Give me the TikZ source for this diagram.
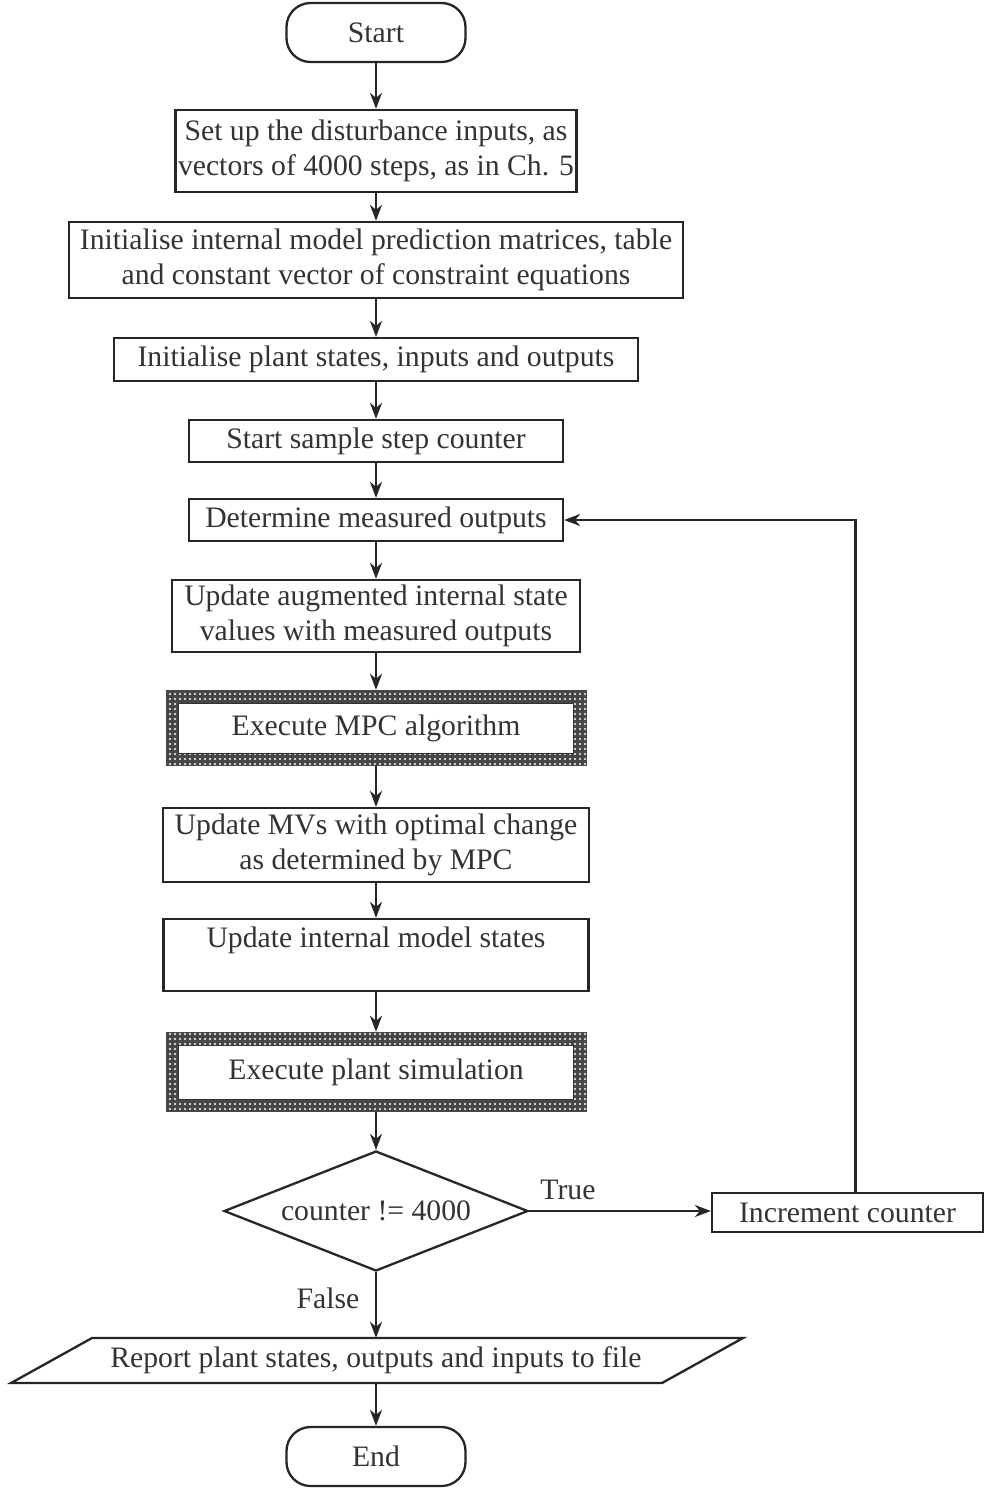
\documentclass[tikz,border=0pt]{standalone}
\usepackage{fontspec}
\setmainfont{Liberation Serif}
\usetikzlibrary{arrows.meta,shapes.geometric,patterns.meta}
\begin{document}
\begin{tikzpicture}[x=1pt,y=-1pt,
  every node/.style={font=\fontsize{29.7}{35}\selectfont, text=black!80},
  box/.style={draw=black!85, line width=2.3pt, rectangle, align=center, inner sep=0pt},
  term/.style={box, rounded corners=24pt},
  patbox/.style={rectangle, inner sep=0pt, fill=black!72, postaction={pattern={Dots[distance=5pt,radius=1.1pt]}, pattern color=white}},
  patinner/.style={rectangle, inner sep=0pt, fill=white, draw=black!80, line width=1pt, align=center},
  arr/.style={draw=black!85, line width=2.2pt, -{Stealth[length=16pt,width=12pt,inset=5pt]}},
  ln/.style={draw=black!85, line width=2.3pt}
]
\useasboundingbox (0,0) rectangle (984,1489);
\fill[white] (0,0) rectangle (984,1489);

\node[term, minimum width=179pt, minimum height=59pt] (start) at (376,32.5) {Start};
\node[box, minimum width=401pt, minimum height=82pt] (b1) at (376,151) {Set up the disturbance inputs, as\\vectors of 4000 steps, as in Ch. 5};
\node[box, minimum width=614pt, minimum height=76pt] (b2) at (376,260) {Initialise internal model prediction matrices, table\\and constant vector of constraint equations};
\node[box, minimum width=524pt, minimum height=43pt] (b3) at (376,359.5) {Initialise plant states, inputs and outputs};
\node[box, minimum width=374pt, minimum height=42pt] (b4) at (376,441) {Start sample step counter};
\node[box, minimum width=374pt, minimum height=42pt] (b5) at (376,520) {Determine measured outputs};
\node[box, minimum width=408pt, minimum height=72pt] (b6) at (376,616) {Update augmented internal state\\values with measured outputs};
\node[patbox, minimum width=421pt, minimum height=76pt] (b7) at (376,728) {};
\node[patinner, minimum width=395pt, minimum height=50pt] (b7i) at (b7.center) {Execute MPC algorithm};
\node[box, minimum width=426pt, minimum height=74pt] (b8) at (376,845) {Update MVs with optimal change\\as determined by MPC};
\node[box, minimum width=425pt, minimum height=72pt] (b9) at (376,955) {Update internal model states\\\mbox{}};
\node[patbox, minimum width=421pt, minimum height=80pt] (b10) at (376,1072) {};
\node[patinner, minimum width=395pt, minimum height=54pt] (b10i) at (b10.center) {Execute plant simulation};
\node[diamond, draw=black!85, line width=2.3pt, aspect=2.53, minimum width=304pt, minimum height=120pt, inner sep=0pt] (dec) at (376,1211) {counter != 4000};
\node[box, minimum width=271pt, minimum height=39pt] (inc) at (847.5,1212.5) {Increment counter};
\node[minimum width=570pt, minimum height=45pt, inner sep=0pt] (rep) at (376,1360.5) {Report plant states, outputs and inputs to file};
\draw[ln] (92,1338) -- (743,1338) -- (662,1383) -- (11,1383) -- cycle;
\node[term, minimum width=179pt, minimum height=59pt] (end) at (376,1456.5) {End};

\node (tlab) at (568,1190) {True};
\node (flab) at (328,1298) {False};

\draw[arr] (start) -- (b1);
\draw[arr] (b1) -- (b2);
\draw[arr] (b2) -- (b3);
\draw[arr] (b3) -- (b4);
\draw[arr] (b4) -- (b5);
\draw[arr] (b5) -- (b6);
\draw[arr] (b6) -- (b7);
\draw[arr] (b7) -- (b8);
\draw[arr] (b8) -- (b9);
\draw[arr] (b9) -- (b10);
\draw[arr] (b10) -- (dec);
\draw[arr] (dec.east) -- (dec.east -| inc.west);
\draw[arr] (dec.south) -- (rep.north);
\draw[arr] (rep) -- (end);
\draw[arr] ([xshift=8pt]inc.north) |- (b5.east);
\end{tikzpicture}
\end{document}
